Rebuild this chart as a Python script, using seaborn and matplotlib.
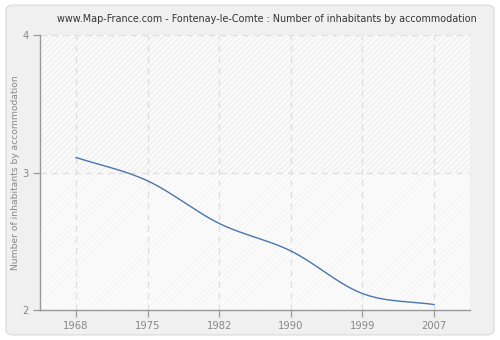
import numpy as np
import pandas as pd
import matplotlib
matplotlib.use("Agg")
import matplotlib.pyplot as plt
from matplotlib.patches import FancyBboxPatch, Rectangle
import seaborn as sns

years = ["1968", "1975", "1982", "1990", "1999", "2007"]
inhabitants = [3.11, 2.94, 2.63, 2.43, 2.12, 2.04]
y_ticks = [2, 3, 4]

sns.set_theme(style="white")
plt.rcParams["font.family"] = ["DejaVu Sans"]
plt.rcParams["hatch.linewidth"] = 0.6


def smooth_curve(xs, ys, n=40):
    """Cubic Hermite curve through the points with Catmull-Rom tangents."""
    xs = np.asarray(xs, float)
    ys = np.asarray(ys, float)
    m = np.zeros_like(ys)
    m[1:-1] = (ys[2:] - ys[:-2]) / (xs[2:] - xs[:-2])
    m[0] = (ys[1] - ys[0]) / (xs[1] - xs[0])
    m[-1] = (ys[-1] - ys[-2]) / (xs[-1] - xs[-2])
    out_x, out_y = [], []
    for i in range(len(xs) - 1):
        h = xs[i + 1] - xs[i]
        t = np.linspace(0, 1, n, endpoint=(i == len(xs) - 2))
        h00 = 2 * t**3 - 3 * t**2 + 1
        h10 = t**3 - 2 * t**2 + t
        h01 = -2 * t**3 + 3 * t**2
        h11 = t**3 - t**2
        out_x.append(xs[i] + t * h)
        out_y.append(h00 * ys[i] + h10 * h * m[i] + h01 * ys[i + 1] + h11 * h * m[i + 1])
    return np.concatenate(out_x), np.concatenate(out_y)


fig = plt.figure(figsize=(5, 3.4), dpi=100)
fig.patch.set_facecolor("white")
frame = FancyBboxPatch((0.012, 0.015), 0.976, 0.97,
                       boxstyle="round,pad=0,rounding_size=0.015",
                       transform=fig.transFigure, facecolor="#f0f0f0",
                       edgecolor="#dedede", linewidth=1.0, zorder=-10)
fig.add_artist(frame)

ax = fig.add_axes([0.08, 0.088, 0.86, 0.809])
ax.set_zorder(1)
ax.set_facecolor("#fbfbfb")

# hatched plot background, slightly stronger above the middle line
ax.add_patch(Rectangle((-0.5, 3), 6, 1, facecolor="#fafafa", edgecolor="#ebebeb",
                       hatch="//////", linewidth=0, zorder=0))
ax.add_patch(Rectangle((-0.5, 2), 6, 1, facecolor="#fbfbfb", edgecolor="#f3f3f3",
                       hatch="//////", linewidth=0, zorder=0))

pos = np.arange(len(years))
cx, cy = smooth_curve(pos, inhabitants)
curve = pd.DataFrame({"x": cx, "y": cy})
sns.lineplot(data=curve, x="x", y="y", ax=ax, color="#4a76ad", linewidth=1.0,
             sort=False, zorder=3)

ax.set_xlim(-0.5, 5.5)
ax.set_ylim(2, 4)
ax.set_xticks(pos)
ax.set_xticklabels(years)
ax.set_yticks(y_ticks)
ax.set_yticklabels([str(v) for v in y_ticks])

for p in pos:
    ax.axvline(p, color="#dedede", linestyle=(0, (5, 4)), linewidth=0.9, zorder=1)
for v in y_ticks[1:]:
    ax.axhline(v, color="#dedede", linestyle=(0, (5, 4)), linewidth=0.9, zorder=1)

for side in ["top", "right"]:
    ax.spines[side].set_visible(False)
for side in ["left", "bottom"]:
    ax.spines[side].set_color("#999999")
    ax.spines[side].set_linewidth(1.0)

ax.tick_params(axis="both", which="both", direction="out", length=5, width=0.9,
               color="#999999", labelcolor="#888888", labelsize=7.2, pad=3,
               left=True, bottom=True)

ax.set_xlabel("")
ax.set_ylabel("Number of inhabitants by accommodation", color="#888888", fontsize=6.6,
              labelpad=2)

fig.text(0.534, 0.945, "www.Map-France.com - Fontenay-le-Comte : Number of inhabitants by accommodation",
         ha="center", va="center", fontsize=6.9, color="#333333")

fig.savefig("out.png", dpi=100, facecolor=fig.get_facecolor())
